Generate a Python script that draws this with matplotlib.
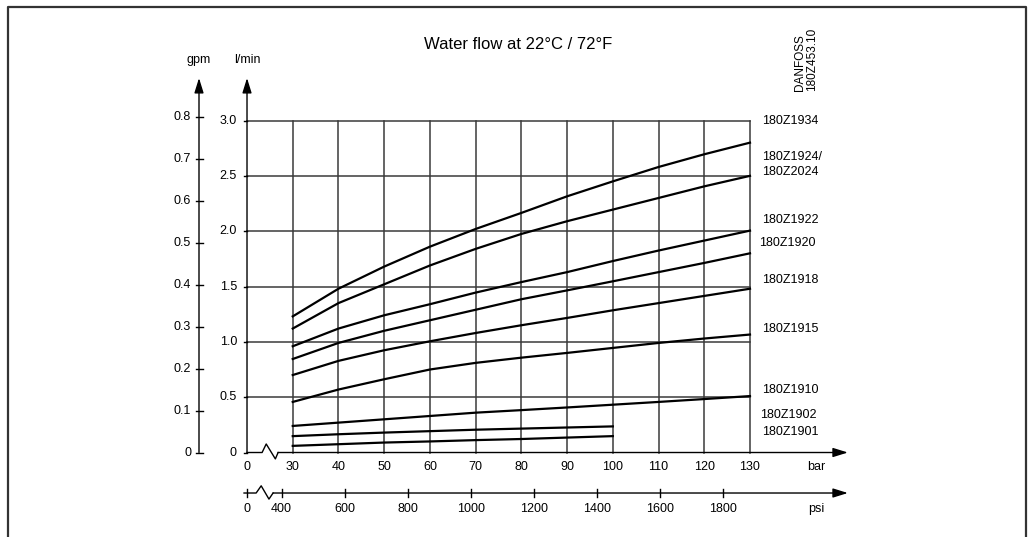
import matplotlib.pyplot as plt
import numpy as np

plt.rcParams['font.family'] = ['Liberation Sans', 'DejaVu Sans']

# pressure (bar) and water flow (l/min)
bar_full = [30, 40, 50, 60, 70, 80, 90, 100, 110, 120, 130]
bar_short = [30, 40, 50, 60, 70, 80, 90, 100]

flow_1934 = [1.23, 1.48, 1.68, 1.86, 2.02, 2.165, 2.315, 2.45, 2.58, 2.695, 2.80]
flow_1924 = [1.12, 1.35, 1.52, 1.69, 1.84, 1.975, 2.09, 2.195, 2.30, 2.405, 2.50]
flow_1922 = [0.96, 1.12, 1.24, 1.34, 1.445, 1.54, 1.63, 1.73, 1.825, 1.915, 2.005]
flow_1920 = [0.845, 0.99, 1.10, 1.195, 1.29, 1.385, 1.465, 1.547, 1.63, 1.713, 1.80]
flow_1918 = [0.70, 0.828, 0.924, 1.005, 1.08, 1.15, 1.216, 1.285, 1.35, 1.415, 1.48]
flow_1915 = [0.457, 0.569, 0.662, 0.75, 0.81, 0.857, 0.90, 0.945, 0.99, 1.03, 1.066]
flow_1910 = [0.24, 0.27, 0.30, 0.33, 0.36, 0.383, 0.407, 0.432, 0.457, 0.483, 0.51]
flow_1902 = [0.148, 0.165, 0.18, 0.193, 0.206, 0.216, 0.226, 0.236]
flow_1901 = [0.06, 0.075, 0.09, 0.10, 0.112, 0.122, 0.135, 0.148]

series_names = ['180Z1934', '180Z1924/\n180Z2024', '180Z1922', '180Z1920', '180Z1918',
                '180Z1915', '180Z1910', '180Z1902', '180Z1901']
series_bar = [bar_full] * 7 + [bar_short] * 2
series_flow = [flow_1934, flow_1924, flow_1922, flow_1920, flow_1918,
               flow_1915, flow_1910, flow_1902, flow_1901]

lmin_ticks = [0, 0.5, 1.0, 1.5, 2.0, 2.5, 3.0]
gpm_ticks = [0, 0.1, 0.2, 0.3, 0.4, 0.5, 0.6, 0.7, 0.8]
bar_ticks = [0, 30, 40, 50, 60, 70, 80, 90, 100, 110, 120, 130]
psi_ticks = [0, 400, 600, 800, 1000, 1200, 1400, 1600, 1800]

GPM = 3.78541      # l/min per gpm
PSI = 14.5038      # psi per bar


def xb(bar):
    # broken axis: 0 at origin, then 30..130 bar linear
    bar = np.asarray(bar, dtype=float)
    return np.where(bar > 0, bar - 20, 0.0)


fig = plt.figure(figsize=(10.28, 5.37), dpi=100)
ax = fig.add_axes([0, 0, 1, 1])
ax.set_xlim(-54.02, 170.8)
ax.set_ylim(-0.7635, 4.089)
ax.set_axis_off()

# frame around the sheet
fx0, fx1, fy = 8 / 1028, 1026 / 1028, 1 - 7 / 537
fig.add_artist(plt.Line2D([fx0, fx0, fx1, fx1], [0, fy, fy, 0], color='#333333', lw=1.6,
                          transform=fig.transFigure))

grid_c = '#3a3a3a'
# grid
for b in bar_ticks[1:]:
    ax.plot([xb(b), xb(b)], [0, 3.0], color=grid_c, lw=1.1)
for v in lmin_ticks[1:]:
    ax.plot([0, xb(130)], [v, v], color=grid_c, lw=1.1)

# curves
for bars, flows in zip(series_bar, series_flow):
    ax.plot(xb(bars), flows, color='black', lw=1.6)

# curve labels
label_y = [2.995, 2.60, 2.10, 1.893, 1.559, 1.116, 0.565, 0.339, 0.185]
label_x = [112.6, 112.6, 112.6, 112.0, 112.6, 112.6, 112.6, 112.2, 112.6]
for name, lx, ly in zip(series_names, label_x, label_y):
    ax.text(lx, ly, name, fontsize=9, ha='left', va='center', linespacing=1.35)

arrow = dict(arrowstyle='-|>,head_length=0.9,head_width=0.28', color='black', lw=1,
             mutation_scale=10, shrinkA=0, shrinkB=0)

# l/min axis
ax.annotate('', xy=(0, 3.384), xytext=(0, 0), arrowprops=arrow)
for v in lmin_ticks:
    ax.plot([-0.7, 0], [v, v], color='black', lw=1)
    ax.text(-2.2, v, f'{v:g}' if v == 0 else f'{v:.1f}', fontsize=9, ha='right', va='center')
ax.text(0, 3.55, 'l/min', fontsize=9, ha='center', va='center')

# gpm axis
gx = -10.5
ax.annotate('', xy=(gx, 3.384), xytext=(gx, 0), arrowprops=arrow)
for g in gpm_ticks:
    y = g * GPM
    ax.plot([gx - 0.7, gx + 0.9], [y, y], color='black', lw=1)
    ax.text(gx - 1.7, y, f'{g:g}' if g == 0 else f'{g:.1f}', fontsize=9, ha='right', va='center')
ax.text(gx, 3.55, 'gpm', fontsize=9, ha='center', va='center')

# bar axis with break
ax.annotate('', xy=(131.4, 0), xytext=(6.8, 0), arrowprops=arrow)
ax.plot([0, 3.3, 4.2, 6.2, 6.8], [0, 0, 0.077, -0.058, 0], color='black', lw=1)
for b in bar_ticks:
    ax.text(xb(b), -0.13, str(b), fontsize=9, ha='center', va='center')
ax.text(124.6, -0.13, 'bar', fontsize=9, ha='center', va='center')

# psi axis with break
py = -0.366
ax.annotate('', xy=(131.4, py), xytext=(5.7, py), arrowprops=arrow)
ax.plot([-0.65, 2.0, 3.1, 4.8, 5.7], [py, py, py + 0.065, py - 0.055, py], color='black', lw=1)
for p in psi_ticks:
    x = xb(p / PSI) if p > 0 else 0.0
    ax.plot([x, x], [py - 0.035, py + 0.035], color='black', lw=1)
    ax.text(x, py - 0.14, str(p), fontsize=9, ha='center', va='center')
ax.text(124.6, py - 0.14, 'psi', fontsize=9, ha='center', va='center')

# title and drawing reference
ax.text(59.3, 3.69, 'Water flow at 22°C / 72°F', fontsize=12, ha='center', va='center')
ax.text(122.2, 3.27, 'DANFOSS\n180Z453.10', fontsize=8.5, rotation=90,
        ha='center', va='bottom', multialignment='left', linespacing=1.05)

fig.savefig('out.png', dpi=100)
